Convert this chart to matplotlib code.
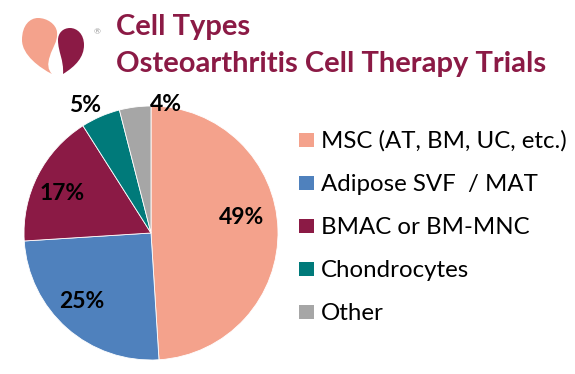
import matplotlib.pyplot as plt
from matplotlib.patches import PathPatch, Rectangle
from matplotlib.path import Path
import numpy as np

labels = ['MSC (AT, BM, UC, etc.)', 'Adipose SVF  / MAT', 'BMAC or BM-MNC',
          'Chondrocytes', 'Other']
values = [49, 25, 17, 5, 4]
colors = ['#F4A28C', '#4F81BD', '#8B1A45', '#007A7A', '#A6A6A6']
# label distance from centre (fraction of radius) and small angle shift (deg)
lab_r = [0.72, 0.77, 0.77, 1.13, 1.02]
lab_shift = [8, -4, 3, 4, -14]

maroon = '#8B1A45'
plt.rcParams['font.family'] = ['Lato', 'DejaVu Sans']

W, H = 575, 374
fig = plt.figure(figsize=(W / 100, H / 100), dpi=100)

# pixel-space overlay for logo and legend
lax = fig.add_axes([0, 0, 1, 1], zorder=-1)
lax.set_xlim(0, W)
lax.set_ylim(H, 0)
lax.axis('off')

# pie
cx, cy, r = 151, 233, 127
ax = fig.add_axes([(cx - r) / W, 1 - (cy + r) / H, 2 * r / W, 2 * r / H])
wedges, _ = ax.pie(values, colors=colors, startangle=90, counterclock=False,
                   wedgeprops=dict(edgecolor='white', linewidth=0.6))
ax.set_xlim(-1, 1)
ax.set_ylim(-1, 1)
ax.set_aspect('equal')
for w, v, rr, sh in zip(wedges, values, lab_r, lab_shift):
    ang = np.deg2rad((w.theta1 + w.theta2) / 2 + sh)
    ax.text(rr * np.cos(ang), rr * np.sin(ang), f'{v}%', ha='center',
            va='center', fontsize=16.5, fontweight='bold', color='black',
            clip_on=False)

# legend, drawn by hand
for i, (lab, c) in enumerate(zip(labels, colors)):
    y = 140 + 43 * i
    lax.add_patch(Rectangle((299, y - 7), 15, 14, facecolor=c, edgecolor='none'))
    lax.text(321, y + 8, lab, fontsize=17.3, va='baseline', ha='left')

# title
fig.text(116 / W, 1 - 35 / H, 'Cell Types', fontsize=21, fontweight='bold',
         color=maroon, va='baseline')
fig.text(116 / W, 1 - 72 / H, 'Osteoarthritis Cell Therapy Trials', fontsize=21,
         fontweight='bold', color=maroon, va='baseline')

# logo
C4 = Path.CURVE4
left_drop = Path([(52, 74), (40, 68), (22, 55), (22, 40), (22, 25), (30, 18), (38, 18),
                  (47, 18), (56, 24), (57, 32), (58, 42), (52, 48), (50, 56),
                  (47, 64), (48, 70), (52, 74)],
                 [Path.MOVETO] + [C4] * 15)
right_drop = Path([(63, 74), (76, 66), (84, 57), (84, 45), (84, 34), (77, 28), (70, 28),
                   (63, 28), (58, 33), (58, 40), (58, 52), (64, 60), (63, 74)],
                  [Path.MOVETO] + [C4] * 12)
lax.add_patch(PathPatch(left_drop, facecolor='#F4A28C', edgecolor='none'))
lax.add_patch(PathPatch(right_drop, facecolor=maroon, edgecolor='none'))
lax.text(97, 32, '®', fontsize=6, color='#999999', ha='center', va='center')

fig.savefig('out.png', dpi=100)
